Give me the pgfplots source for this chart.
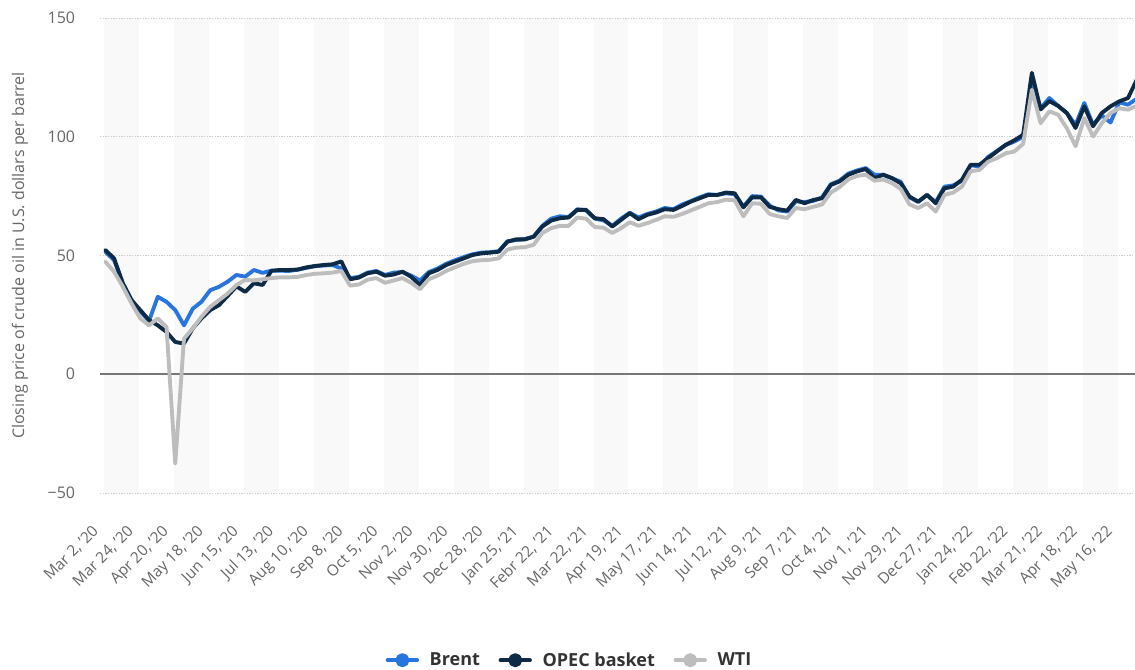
\documentclass[border=0pt]{standalone}
\usepackage{pgfplots}
\usepackage{pgfplotstable}
\pgfplotsset{compat=1.18}
\usepackage{fontspec}
\setmainfont{Open Sans}

\definecolor{brentblue}{HTML}{2876DD}
\definecolor{opecnavy}{HTML}{0D2A47}
\definecolor{wtigray}{HTML}{BDBDBD}
\definecolor{bandgray}{HTML}{F9F9F9}
\definecolor{gridgray}{HTML}{CCCCCC}
\definecolor{zerogray}{HTML}{777777}
\definecolor{tickgray}{HTML}{666666}
\definecolor{legtext}{HTML}{333333}

% weekly closing prices, index 0 = Mar 2 '20
\pgfplotstableread{
i brent opec wti
0 51.6 52.3 47.4
1 48.0 48.8 43.2
2 38.3 38.3 36.9
3 31.2 31.2 29.8
4 26.5 27.0 23.5
5 22.5 22.8 20.6
6 32.6 20.6 23.5
7 30.5 17.8 19.9
8 27.0 13.6 -37.6
9 20.6 12.9 15.0
10 27.6 19.3 19.3
11 30.5 23.5 24.2
12 35.4 27.0 28.4
13 36.8 29.1 31.2
14 39.0 33.0 34.0
15 41.8 37.0 37.6
16 41.1 34.7 39.7
17 43.9 38.3 39.5
18 42.7 37.6 40.0
19 43.6 43.6 40.5
20 43.6 43.9 40.8
21 43.5 43.9 40.8
22 44.0 44.1 41.0
23 44.8 45.0 41.8
24 45.5 45.6 42.3
25 45.8 46.0 42.5
26 46.0 46.3 42.8
27 44.5 47.5 43.5
28 40.5 40.0 37.3
29 41.0 40.7 37.8
30 42.8 42.5 39.8
31 43.5 43.2 40.5
32 41.8 41.5 38.5
33 42.8 42.0 39.5
34 43.0 43.2 40.5
35 41.5 41.0 38.5
36 39.5 37.5 35.8
37 43.0 42.5 40.0
38 44.5 43.9 41.5
39 46.5 46.0 43.5
40 48.0 47.4 45.0
41 49.3 48.8 46.5
42 50.5 50.2 47.6
43 51.2 50.9 48.0
44 51.4 51.2 48.2
45 51.8 51.6 48.8
46 56.0 55.8 52.5
47 56.5 56.8 53.3
48 56.9 56.8 53.5
49 58.0 57.9 54.5
50 62.5 62.2 59.5
51 65.5 64.7 61.5
52 66.5 65.7 62.5
53 66.2 66.0 62.5
54 69.5 69.2 66.0
55 69.0 69.2 65.5
56 65.5 65.7 62.0
57 64.8 65.3 61.7
58 62.5 62.2 59.5
59 65.5 65.0 61.5
60 68.0 67.8 64.0
61 66.0 65.3 62.5
62 67.5 67.1 63.6
63 68.5 68.1 65.0
64 70.0 69.5 66.5
65 69.5 69.2 66.3
66 71.5 70.9 67.5
67 72.9 72.7 69.0
68 74.5 74.1 70.5
69 75.8 75.5 72.0
70 75.5 75.5 72.5
71 76.2 76.5 73.5
72 75.8 76.2 73.3
73 70.5 70.3 66.5
74 75.0 74.5 72.0
75 74.8 74.5 71.8
76 71.0 70.5 67.5
77 69.0 69.5 66.5
78 68.5 68.9 65.8
79 72.8 73.4 70.0
80 72.5 72.0 69.5
81 73.0 73.4 70.5
82 74.5 74.1 71.5
83 80.0 79.7 76.5
84 81.5 81.2 78.8
85 84.5 84.0 82.0
86 85.8 85.4 83.5
87 86.8 86.4 84.0
88 84.0 82.6 81.5
89 84.0 84.0 82.0
90 82.5 82.6 80.5
91 81.0 80.4 78.0
92 74.5 74.8 71.5
93 72.5 72.7 70.0
94 75.5 75.5 72.0
95 72.5 72.0 68.5
96 79.0 78.3 75.5
97 79.5 79.0 76.5
98 81.5 81.9 79.0
99 88.0 88.2 85.5
100 87.5 88.2 86.0
101 91.5 91.0 89.5
102 94.0 93.8 91.0
103 96.5 96.6 93.0
104 98.0 98.5 93.8
105 100.0 100.8 97.0
106 123.0 126.9 119.8
107 112.0 111.5 105.7
108 116.3 115.0 110.7
109 113.0 113.0 109.3
110 110.0 110.0 103.6
111 105.0 103.7 96.0
112 114.2 112.8 107.9
113 105.0 104.4 100.1
114 109.0 110.0 105.7
115 106.0 112.8 110.0
116 114.5 114.9 112.0
117 113.5 116.3 111.4
118 116.0 124.0 113.0
}\oiltable

\begin{document}
\begin{tikzpicture}
\useasboundingbox (-75pt,-132pt) rectangle (776.25pt,369.75pt);
\begin{axis}[
  at={(0pt,0pt)}, anchor=south west,
  scale only axis, width=776.25pt, height=356.25pt,
  xmin=-0.61, xmax=117.8,
  ymin=-50, ymax=150,
  clip=false,
  axis line style={draw=none},
  major tick length=0pt,
  ytick={-50,0,50,100,150},
  yticklabels={−50,0,50,100,150},
  yticklabel style={font=\fontsize{12}{14}\selectfont, text=tickgray, anchor=east, inner sep=0pt, xshift=-18.5pt},
  xtick={0,4,...,116},
  xticklabels={{Mar 2, '20},{Mar 24, '20},{Apr 20, '20},{May 18, '20},{Jun 15, '20},{Jul 13, '20},{Aug 10, '20},{Sep 8, '20},{Oct 5, '20},{Nov 2, '20},{Nov 30, '20},{Dec 28, '20},{Jan 25, '21},{Febr 22, '21},{Mar 22, '21},{Apr 19, '21},{May 17, '21},{Jun 14, '21},{Jul 12, '21},{Aug 9, '21},{Sep 7, '21},{Oct 4, '21},{Nov 1, '21},{Nov 29, '21},{Dec 27, '21},{Jan 24, '22},{Feb 22, '22},{Mar 21, '22},{Apr 18, '22},{May 16, '22}},
  xticklabel style={font=\fontsize{11.5}{13}\selectfont, text=tickgray, xshift=-10.5pt, yshift=-23pt, rotate=45, anchor=north east, inner sep=0pt},
  ylabel={Closing price of crude oil in U.S. dollars per barrel},
  ylabel style={at={(axis description cs:-0.0773,0.5)}, anchor=center, font=\fontsize{12}{14}\selectfont, text=tickgray},
  legend columns=3,
  legend style={at={(axis description cs:0.454,-0.352)}, anchor=center, draw=none, fill=none,
    font=\bfseries\fontsize{13.5}{15}\selectfont, text=legtext,
    /tikz/every odd column/.append style={column sep=6pt},
    /tikz/every even column/.append style={column sep=12pt}},
  legend image code/.code={\draw[#1, line width=3pt] (0pt,0pt) -- (22pt,0pt); \fill[#1] (11pt,0pt) circle (3.8pt);},
  every axis plot/.append style={line width=2.9pt, line join=round, line cap=round, mark=none},
]
\pgfplotsinvokeforeach{0,8,...,112}{
  \fill[bandgray] (axis cs:{#1-0.15},-50) rectangle (axis cs:{#1+3.85},150);
}
\pgfplotsinvokeforeach{-50,50,100,150}{
  \draw[gridgray, line width=0.75pt, dash pattern=on 1pt off 1pt] (axis cs:-0.61,#1) -- (axis cs:117.8,#1);
}
\draw[zerogray, line width=1.5pt] (axis cs:-0.61,0) -- (axis cs:117.8,0);

\addplot[color=brentblue] table[x=i, y=brent] {\oiltable};
\addlegendentry{Brent}
\addplot[color=opecnavy] table[x=i, y=opec] {\oiltable};
\addlegendentry{OPEC basket}
\addplot[color=wtigray] table[x=i, y=wti] {\oiltable};
\addlegendentry{WTI}
\end{axis}
\end{tikzpicture}
\end{document}
